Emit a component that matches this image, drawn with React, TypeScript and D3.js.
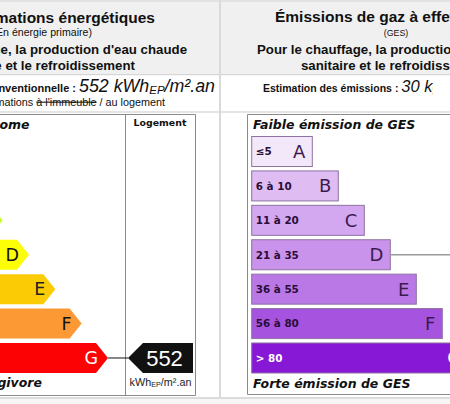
import React from 'react';
import * as d3 from 'd3';

const energyClasses = ['A', 'B', 'C', 'D', 'E', 'F', 'G'];
const energyColors = ['#319834', '#33cc31', '#cbfc34', '#fbfe06', '#fbcc05', '#fc9935', '#fc0205'];
const energyLetterColors = ['#111', '#111', '#111', '#111', '#222', '#111', '#ffffff'];
const energyValue = 552;
const energyClass = 'G';
const energyUnit = 'kWh';

const gesClasses = ['A', 'B', 'C', 'D', 'E', 'F', 'G'];
const gesRanges = ['≤5', '6 à 10', '11 à 20', '21 à 35', '36 à 55', '56 à 80', '> 80'];
const gesColors = ['#f3e8f9', '#dfbdf3', '#d4a8f0', '#c993ec', '#b978e6', '#a654df', '#8718d6'];
const gesTextColors = ['#2a0d3a', '#2a0d3a', '#2a0d3a', '#2a0d3a', '#2a0d3a', '#2a0d3a', '#ffffff'];
const gesValue = 30;
const gesClass = 'D';

const W = 450;
const H = 404;
const sans = "'Liberation Sans', Arial, sans-serif";
const verd = "'DejaVu Sans', Verdana, sans-serif";

export default function App() {
  const y = d3.scaleBand<string>().domain(energyClasses).range([136.5, 373]).paddingInner(0.128);
  const yG = d3.scaleBand<string>().domain(gesClasses).range([136.5, 373]).paddingInner(0.128);
  const tipX = d3.scaleLinear().domain([0, 6]).range([-50, 108]);
  const gesEnd = d3.scaleLinear().domain([0, 6]).range([312.3, 468.3]);
  const bw = y.bandwidth();
  const depth = 12;

  const arrowPath = (i: number, c: string) => {
    const t = y(c)!;
    const tip = tipX(i);
    const p = d3.path();
    p.moveTo(-200, t);
    p.lineTo(tip - depth, t);
    p.lineTo(tip, t + bw / 2);
    p.lineTo(tip - depth, t + bw);
    p.lineTo(-200, t + bw);
    p.closePath();
    return p.toString();
  };

  const eIdx = energyClasses.indexOf(energyClass);
  const eMid = y(energyClass)! + bw / 2;
  const valTip = 128;
  const valPath = (() => {
    const p = d3.path();
    const t = y(energyClass)!;
    p.moveTo(valTip, t + bw / 2);
    p.lineTo(valTip + 15, t);
    p.lineTo(193, t);
    p.lineTo(193, t + bw);
    p.lineTo(valTip + 15, t + bw);
    p.closePath();
    return p.toString();
  })();

  const gIdx = gesClasses.indexOf(gesClass);
  const gMid = yG(gesClass)! + yG.bandwidth() / 2;

  return (
    <svg width={W} height={H} style={{ position: 'absolute', left: 0, top: 0, background: '#fff' }}>
      <defs>
        <clipPath id="clipRow2">
          <rect x={222} y={75} width={211} height={36} />
        </clipPath>
      </defs>
      {/* header background */}
      <rect x={0} y={0} width={W} height={74} fill="#f0f0f0" />
      <rect x={0} y={0} width={W} height={2} fill="#e2e2e2" />
      <rect x={0} y={74} width={W} height={1.5} fill="#d6d6d6" />
      <rect x={0} y={75.5} width={W} height={36} fill="#ffffff" />
      <rect x={0} y={111} width={W} height={2} fill="#e4e4e4" />
      <rect x={0} y={397} width={W} height={2} fill="#dcdcdc" />
      <rect x={0} y={399} width={W} height={5} fill="#f6f6f6" />
      <rect x={219} y={0} width={2} height={399} fill="#dadada" />

      {/* left header texts */}
      <g fontFamily={sans} fill="#111" textAnchor="end">
        <text x={155} y={22.5} fontSize={15.5} fontWeight="bold">Consommations énergétiques</text>
        <text x={92} y={36} fontSize={10.6}>(En énergie primaire)</text>
        <text x={187} y={54.3} fontSize={13.25} fontWeight="bold">Pour le chauffage, la production d'eau chaude</text>
        <text x={135} y={70} fontSize={13.25} fontWeight="bold">sanitaire et le refroidissement</text>
        <text x={215} y={92.3}>
          <tspan fontSize={11} fontWeight="bold">Consommation conventionnelle : </tspan>
          <tspan fontSize={17.8} fontStyle="italic">{energyValue} {energyUnit}</tspan>
          <tspan fontSize={11.5} fontStyle="italic" dy={2}>EP</tspan>
          <tspan fontSize={17.8} fontStyle="italic" dy={-2}>/m².an</tspan>
        </text>
        <text x={165} y={105.5} fontSize={10.8}>
          <tspan>Estimations </tspan>
          <tspan textDecoration="line-through">à l'immeuble</tspan>
          <tspan> / au logement</tspan>
        </text>
      </g>

      {/* right header texts */}
      <g fontFamily={sans} fill="#111" textAnchor="start">
        <text x={275} y={22} fontSize={15.5} fontWeight="bold">Émissions de gaz à effet de serre</text>
        <text x={396} y={36} fontSize={8.8} textAnchor="middle">(GES)</text>
        <text x={257} y={54} fontSize={13.25} fontWeight="bold">Pour le chauffage, la production d'eau chaude</text>
        <text x={301} y={69.5} fontSize={13.25} fontWeight="bold">sanitaire et le refroidissement</text>
        <text x={263} y={92.3} clipPath="url(#clipRow2)">
          <tspan fontSize={10.5} fontWeight="bold">Estimation des émissions : </tspan>
          <tspan fontSize={16.5} fontStyle="italic">{gesValue} kgéqCO2/m².an</tspan>
        </text>
      </g>

      {/* left chart box */}
      <g fill="none" stroke="#8a8a8a" strokeWidth={1}>
        <line x1={-2} y1={114.5} x2={195.5} y2={114.5} />
        <line x1={-2} y1={395.5} x2={195.5} y2={395.5} />
        <line x1={125.5} y1={114.5} x2={125.5} y2={395.5} />
        <line x1={195.5} y1={114.5} x2={195.5} y2={395.5} />
      </g>
      <text x={29.5} y={128.8} fontFamily={verd} fontSize={12.5} fontWeight="bold" fontStyle="italic" textAnchor="end" fill="#111">Logement économe</text>
      <text x={42} y={387} fontFamily={verd} fontSize={12.5} fontWeight="bold" fontStyle="italic" textAnchor="end" fill="#111">Logement énergivore</text>
      <text x={160} y={126} fontFamily={verd} fontSize={9.4} fontWeight="bold" textAnchor="middle" fill="#111">Logement</text>

      {energyClasses.map((c, i) => (
        <g key={c}>
          <path d={arrowPath(i, c)} fill={energyColors[i]} />
          <text x={tipX(i) - 10} y={y(c)! + bw / 2 + 6.3} fontFamily={verd} fontSize={17.5} textAnchor="end" fill={energyLetterColors[i]}>{c}</text>
        </g>
      ))}
      <line x1={tipX(eIdx)} y1={eMid} x2={valTip} y2={eMid} stroke="#111" strokeWidth={1} />
      <path d={valPath} fill="#111" />
      <text x={164.5} y={eMid + 7.8} fontFamily={sans} fontSize={22} textAnchor="middle" fill="#fff">{energyValue}</text>
      <text x={160.5} y={385.5} fontFamily={sans} fontSize={10.8} textAnchor="middle" fill="#222">
        <tspan>kWh</tspan>
        <tspan fontSize={7.2} dy={1}>EP</tspan>
        <tspan dy={-1}>/m².an</tspan>
      </text>

      {/* right chart box */}
      <g fill="none" stroke="#8a8a8a" strokeWidth={1}>
        <line x1={247.5} y1={114.5} x2={452} y2={114.5} />
        <line x1={247.5} y1={394.5} x2={452} y2={394.5} />
        <line x1={247.5} y1={114.5} x2={247.5} y2={394.5} />
      </g>
      <text x={253} y={128.8} fontFamily={verd} fontSize={12.5} fontWeight="bold" fontStyle="italic" fill="#111">Faible émission de GES</text>
      <text x={253} y={388} fontFamily={verd} fontSize={12.5} fontWeight="bold" fontStyle="italic" fill="#111">Forte émission de GES</text>

      {gesClasses.map((c, i) => {
        const t = yG(c)!;
        const h = yG.bandwidth();
        return (
          <g key={c}>
            <rect x={251.7} y={t} width={gesEnd(i) - 251.7} height={h} fill={gesColors[i]} stroke="#8c72a0" strokeWidth={1} />
            <text x={255.7} y={t + h / 2 + 3.8} fontFamily={verd} fontSize={10.4} fontWeight="bold" fill={gesTextColors[i]}>{gesRanges[i]}</text>
            <text x={gesEnd(i) - 7} y={t + h / 2 + 6.5} fontFamily={verd} fontSize={18} textAnchor="end" fill={i === 6 ? '#fff' : '#3c1a4f'}>{c}</text>
          </g>
        );
      })}
      <line x1={gesEnd(gIdx)} y1={gMid} x2={452} y2={gMid} stroke="#999" strokeWidth={1.5} />
    </svg>
  );
}
